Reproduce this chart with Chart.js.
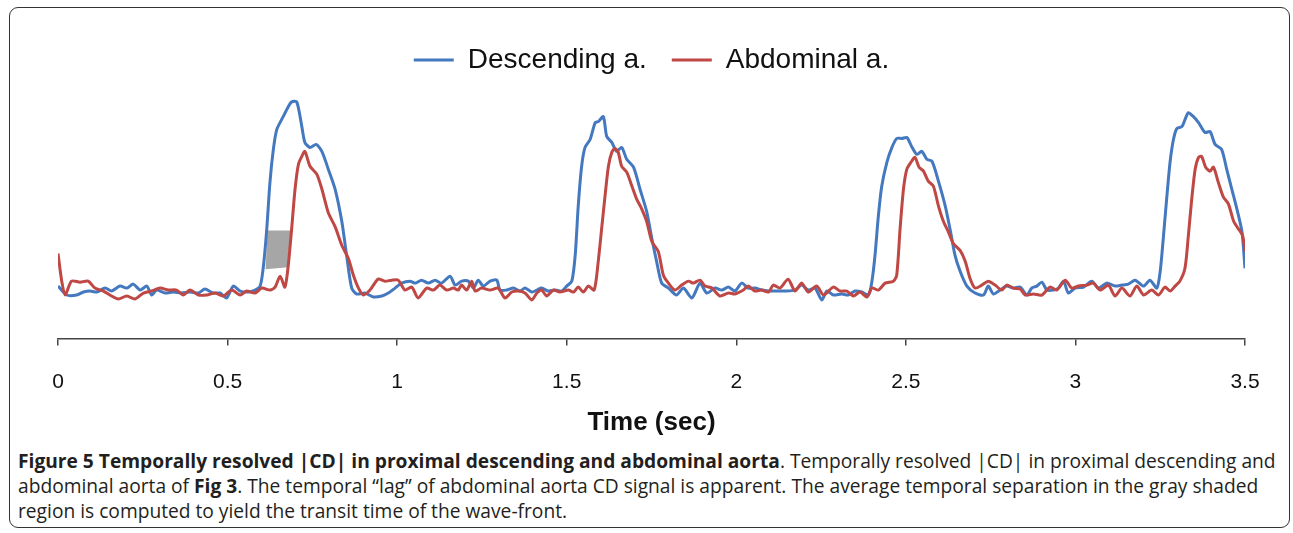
<!DOCTYPE html>
<html>
<head>
<meta charset="utf-8">
<script src="https://cdn.jsdelivr.net/npm/chart.js@4.4.1/dist/chart.umd.min.js"></script>
<style>
body { margin: 0; background: #fff; }
#frame { position: absolute; left: 9px; top: 7px; width: 1279px; height: 519px; border: 1.5px solid #333; border-radius: 9px; }
#wrap { position: absolute; left: 0; top: 0; width: 1293px; height: 438px; }
#caption { position: absolute; left: 18px; top: 448px; font-family: 'Open Sans', sans-serif; font-size: 19.2px; line-height: 25px; color: #231f20; white-space: nowrap; }
#caption b { font-weight: 700; }
</style>
</head>
<body>
<div id="frame"></div>
<div id="wrap"><canvas id="chart" width="1293" height="438"></canvas></div>
<div id="caption">
<div><b>Figure 5 Temporally resolved |CD| in proximal descending and abdominal aorta</b>. Temporally resolved |CD| in proximal descending and</div>
<div>abdominal aorta of <b>Fig 3</b>. The temporal “lag” of abdominal aorta CD signal is apparent. The average temporal separation in the gray shaded</div>
<div>region is computed to yield the transit time of the wave-front.</div>
</div>
<script>
// time (sec) and |CD| (arbitrary units)
var descTime = [
    0, 0.026, 0.055, 0.075, 0.094, 0.114, 0.139, 0.158, 0.183, 0.203,
    0.222, 0.242, 0.262, 0.276, 0.291, 0.316, 0.340, 0.365, 0.389, 0.414,
    0.433, 0.458, 0.478, 0.497, 0.517, 0.537, 0.561, 0.581, 0.596, 0.605,
    0.615, 0.625, 0.635, 0.645, 0.664, 0.679, 0.689, 0.704, 0.719, 0.728,
    0.743, 0.761, 0.778, 0.797, 0.817, 0.837, 0.851, 0.866, 0.881, 0.905,
    0.930, 0.955, 0.974, 0.994, 1.013, 1.038, 1.053, 1.072, 1.092, 1.112,
    1.131, 1.156, 1.171, 1.190, 1.210, 1.225, 1.239, 1.254, 1.274, 1.294,
    1.303, 1.323, 1.343, 1.362, 1.377, 1.397, 1.412, 1.426, 1.446, 1.466,
    1.485, 1.500, 1.515, 1.525, 1.534, 1.544, 1.554, 1.569, 1.584, 1.593,
    1.608, 1.618, 1.633, 1.647, 1.662, 1.677, 1.697, 1.716, 1.736, 1.751,
    1.765, 1.780, 1.800, 1.824, 1.844, 1.869, 1.893, 1.913, 1.937, 1.957,
    1.977, 1.996, 2.016, 2.035, 2.055, 2.075, 2.095, 2.119, 2.144, 2.173,
    2.193, 2.212, 2.232, 2.252, 2.267, 2.286, 2.311, 2.330, 2.350, 2.370,
    2.390, 2.400, 2.409, 2.419, 2.429, 2.444, 2.459, 2.473, 2.488, 2.503,
    2.517, 2.532, 2.547, 2.562, 2.577, 2.596, 2.616, 2.630, 2.645, 2.660,
    2.680, 2.704, 2.729, 2.743, 2.758, 2.778, 2.797, 2.817, 2.837, 2.857,
    2.871, 2.886, 2.901, 2.916, 2.935, 2.950, 2.965, 2.979, 2.999, 3.024,
    3.048, 3.068, 3.092, 3.117, 3.137, 3.156, 3.176, 3.201, 3.220, 3.240,
    3.250, 3.259, 3.269, 3.279, 3.289, 3.299, 3.314, 3.323, 3.333, 3.348,
    3.363, 3.382, 3.397, 3.412, 3.431, 3.446, 3.461, 3.476, 3.491, 3.500
];
var descValue = [
    0.53, 0.44, 0.44, 0.47, 0.48, 0.47, 0.51, 0.48, 0.53, 0.51,
    0.55, 0.49, 0.53, 0.44, 0.49, 0.46, 0.47, 0.46, 0.47, 0.46,
    0.50, 0.46, 0.46, 0.41, 0.53, 0.48, 0.47, 0.49, 0.53, 0.71,
    1.08, 1.58, 1.91, 2.11, 2.24, 2.34, 2.39, 2.39, 2.14, 1.98,
    1.93, 1.96, 1.89, 1.71, 1.51, 1.18, 0.84, 0.51, 0.45, 0.46,
    0.42, 0.43, 0.46, 0.51, 0.56, 0.58, 0.56, 0.59, 0.56, 0.59,
    0.56, 0.63, 0.54, 0.58, 0.58, 0.51, 0.59, 0.53, 0.58, 0.59,
    0.49, 0.49, 0.51, 0.48, 0.51, 0.47, 0.49, 0.51, 0.48, 0.49,
    0.48, 0.53, 0.58, 0.84, 1.34, 1.74, 1.93, 2.01, 2.18, 2.19,
    2.24, 2.04, 1.98, 1.89, 1.93, 1.81, 1.73, 1.51, 1.28, 1.01,
    0.78, 0.56, 0.51, 0.44, 0.51, 0.41, 0.56, 0.46, 0.51, 0.49,
    0.52, 0.48, 0.56, 0.51, 0.51, 0.49, 0.48, 0.48, 0.48, 0.49,
    0.54, 0.49, 0.51, 0.39, 0.48, 0.44, 0.45, 0.44, 0.48, 0.47,
    0.44, 0.58, 0.84, 1.24, 1.54, 1.78, 1.93, 2.02, 2.02, 2.03,
    1.94, 1.86, 1.89, 1.81, 1.79, 1.59, 1.34, 1.11, 0.84, 0.68,
    0.53, 0.46, 0.44, 0.53, 0.45, 0.49, 0.53, 0.51, 0.52, 0.44,
    0.51, 0.53, 0.57, 0.49, 0.49, 0.51, 0.58, 0.46, 0.51, 0.52,
    0.58, 0.51, 0.56, 0.53, 0.54, 0.55, 0.59, 0.53, 0.59, 0.51,
    0.68, 1.01, 1.41, 1.78, 2.01, 2.12, 2.14, 2.21, 2.28, 2.24,
    2.18, 2.08, 2.09, 1.96, 1.91, 1.71, 1.51, 1.31, 1.08, 0.71
];

var abdTime = [
    0, 0.011, 0.021, 0.040, 0.065, 0.089, 0.109, 0.134, 0.158, 0.178,
    0.203, 0.227, 0.252, 0.276, 0.301, 0.325, 0.350, 0.369, 0.389, 0.414,
    0.439, 0.463, 0.487, 0.512, 0.537, 0.556, 0.581, 0.601, 0.625, 0.640,
    0.655, 0.669, 0.679, 0.689, 0.699, 0.709, 0.719, 0.728, 0.743, 0.763,
    0.778, 0.797, 0.817, 0.837, 0.856, 0.871, 0.886, 0.900, 0.920, 0.944,
    0.964, 0.984, 1.003, 1.023, 1.043, 1.062, 1.087, 1.107, 1.126, 1.146,
    1.166, 1.180, 1.190, 1.205, 1.220, 1.230, 1.249, 1.274, 1.298, 1.318,
    1.338, 1.357, 1.377, 1.397, 1.412, 1.426, 1.441, 1.461, 1.480, 1.505,
    1.520, 1.534, 1.549, 1.564, 1.581, 1.593, 1.603, 1.613, 1.623, 1.633,
    1.642, 1.652, 1.662, 1.677, 1.692, 1.706, 1.721, 1.736, 1.751, 1.770,
    1.785, 1.800, 1.819, 1.839, 1.859, 1.873, 1.893, 1.908, 1.928, 1.952,
    1.977, 1.996, 2.021, 2.035, 2.055, 2.075, 2.095, 2.109, 2.129, 2.153,
    2.173, 2.193, 2.212, 2.237, 2.257, 2.286, 2.306, 2.326, 2.345, 2.365,
    2.385, 2.400, 2.419, 2.439, 2.463, 2.473, 2.483, 2.493, 2.503, 2.517,
    2.527, 2.539, 2.552, 2.566, 2.581, 2.596, 2.610, 2.625, 2.640, 2.660,
    2.675, 2.689, 2.704, 2.724, 2.743, 2.763, 2.783, 2.797, 2.817, 2.837,
    2.852, 2.876, 2.901, 2.925, 2.945, 2.970, 2.989, 3.009, 3.034, 3.053,
    3.073, 3.097, 3.117, 3.137, 3.161, 3.181, 3.201, 3.225, 3.245, 3.264,
    3.279, 3.294, 3.308, 3.323, 3.333, 3.343, 3.353, 3.363, 3.372, 3.384,
    3.397, 3.407, 3.421, 3.436, 3.451, 3.466, 3.480, 3.493, 3.500
];
var abdValue = [
    0.86, 0.58, 0.44, 0.58, 0.57, 0.58, 0.51, 0.48, 0.43, 0.40,
    0.43, 0.40, 0.46, 0.48, 0.51, 0.49, 0.49, 0.44, 0.49, 0.44,
    0.44, 0.46, 0.43, 0.49, 0.44, 0.48, 0.46, 0.51, 0.49, 0.52,
    0.63, 0.52, 0.74, 1.11, 1.51, 1.76, 1.84, 1.89, 1.74, 1.66,
    1.51, 1.27, 1.13, 0.94, 0.81, 0.64, 0.51, 0.44, 0.49, 0.60,
    0.58, 0.59, 0.59, 0.49, 0.52, 0.41, 0.51, 0.49, 0.54, 0.49,
    0.51, 0.49, 0.54, 0.49, 0.58, 0.48, 0.51, 0.49, 0.51, 0.41,
    0.47, 0.48, 0.46, 0.39, 0.46, 0.49, 0.43, 0.49, 0.47, 0.49,
    0.47, 0.52, 0.47, 0.53, 0.49, 0.78, 1.11, 1.44, 1.74, 1.88,
    1.92, 1.88, 1.74, 1.68, 1.54, 1.41, 1.31, 1.18, 0.98, 0.88,
    0.64, 0.56, 0.49, 0.54, 0.58, 0.56, 0.59, 0.53, 0.51, 0.43,
    0.46, 0.45, 0.49, 0.53, 0.48, 0.49, 0.47, 0.54, 0.51, 0.60,
    0.48, 0.56, 0.47, 0.53, 0.44, 0.52, 0.48, 0.48, 0.43, 0.47,
    0.42, 0.51, 0.49, 0.56, 0.58, 0.64, 1.11, 1.51, 1.71, 1.79,
    1.83, 1.73, 1.69, 1.59, 1.54, 1.34, 1.19, 1.08, 0.96, 0.89,
    0.78, 0.61, 0.51, 0.54, 0.58, 0.54, 0.49, 0.54, 0.51, 0.50,
    0.44, 0.45, 0.44, 0.52, 0.49, 0.59, 0.51, 0.53, 0.54, 0.56,
    0.49, 0.54, 0.43, 0.51, 0.43, 0.53, 0.44, 0.49, 0.44, 0.52,
    0.48, 0.53, 0.58, 0.71, 1.04, 1.41, 1.71, 1.83, 1.84, 1.73,
    1.69, 1.73, 1.58, 1.43, 1.36, 1.19, 1.11, 1.04, 0.88
];

// gray band between the two rising edges (transit time)
var shadeTime = [0.618, 0.691, 0.679, 0.612, 0.618];
var shadeValue = [1.09, 1.09, 0.72, 0.70, 1.09];

var blue = '#4478BF';
var red = '#BF4744';
var gray = '#A6A6A6';
var fontFamily = "'Liberation Sans', Arial, sans-serif";

function toPoints(xs, ys) {
    return xs.map(function (x, i) { return { x: x, y: ys[i] }; });
}

var ctx = document.getElementById("chart").getContext("2d");

var chart = new Chart(ctx, {
    type: 'line',
    data: {
        datasets: [{
            label: "Descending a.",
            data: toPoints(descTime, descValue),
            borderColor: blue,
            backgroundColor: blue,
            borderWidth: 3,
            pointRadius: 0,
            tension: 0.25,
            borderJoinStyle: 'round',
            fill: false,
            order: 2
        }, {
            label: "Abdominal a.",
            data: toPoints(abdTime, abdValue),
            borderColor: red,
            backgroundColor: red,
            borderWidth: 3,
            pointRadius: 0,
            tension: 0.25,
            borderJoinStyle: 'round',
            fill: false,
            order: 1
        }, {
            label: "shade",
            data: toPoints(shadeTime, shadeValue),
            borderColor: gray,
            backgroundColor: gray,
            borderWidth: 0,
            pointRadius: 0,
            tension: 0,
            fill: 'shape',
            order: 3
        }]
    },
    options: {
        responsive: false,
        animation: false,
        devicePixelRatio: 1,
        layout: { padding: { left: 58, right: 48, top: 21, bottom: 0 } },
        plugins: {
            tooltip: { enabled: false },
            legend: {
                position: 'top',
                labels: {
                    color: '#111',
                    font: { family: fontFamily, size: 28 },
                    boxWidth: 40,
                    boxHeight: 3,
                    padding: 25,
                    generateLabels: function (chart) {
                        return Chart.defaults.plugins.legend.labels.generateLabels(chart)
                            .filter(function (item) { return item.text !== 'shade'; })
                            .sort(function (a, b) { return a.datasetIndex - b.datasetIndex; })
                            .map(function (item) {
                                item.fillStyle = item.strokeStyle;
                                item.lineWidth = 0;
                                return item;
                            });
                    }
                }
            }
        },
        scales: {
            x: {
                type: 'linear',
                min: 0,
                max: 3.5,
                ticks: {
                    stepSize: 0.5,
                    color: '#111',
                    font: { family: fontFamily, size: 21 },
                    padding: 24,
                    maxRotation: 0,
                    autoSkip: false,
                    callback: function (value) { return String(value); }
                },
                grid: { display: true, drawOnChartArea: false, drawTicks: true, tickLength: 7, color: '#444', lineWidth: 1.5 },
                border: { display: true, color: '#444', width: 1.5 },
                title: {
                    display: true,
                    text: 'Time (sec)',
                    color: '#111',
                    font: { family: fontFamily, size: 26, weight: 'bold' },
                    padding: { top: -12, bottom: 0 }
                }
            },
            y: { display: false, min: 0, max: 2.57 }
        }
    }
});
</script>
</body>
</html>
